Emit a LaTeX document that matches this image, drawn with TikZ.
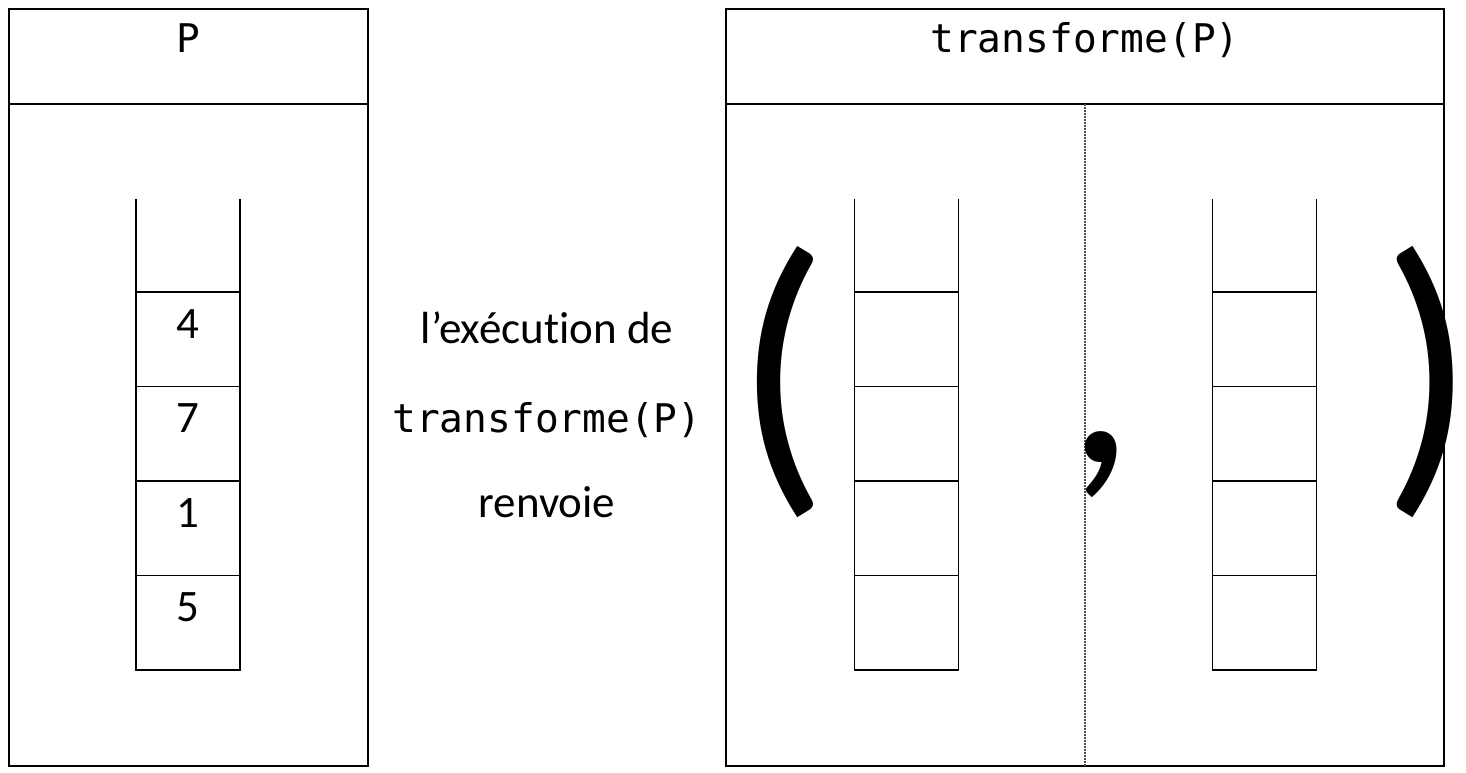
\documentclass[tikz,border=0pt]{standalone}
\usepackage{fontspec}
\setmainfont[Ligatures=NoCommon]{Carlito}
\setmonofont{DejaVu Sans Mono}
\begin{document}
\begin{tikzpicture}[x=1pt,y=-1pt,
  frame/.style={draw, line width=1.6pt, inner sep=0pt, outer sep=0pt, minimum width=#1},
  cellbox/.style={draw, line width=1.4pt, minimum width=104pt, minimum height=94.5pt, inner sep=0pt, outer sep=0pt},
  txt/.style={font=\fontsize{45}{54}\selectfont, inner sep=0pt, anchor=base},
  mono/.style={font=\ttfamily\fontsize{39.5}{46}\selectfont, inner sep=0pt, anchor=base},
  big/.style={font=\fontsize{312}{312}\selectfont, inner sep=0pt},
  bigc/.style={font=\fontsize{275}{275}\selectfont, inner sep=0pt},
  sep/.style={line width=1.3pt, draw=black!70, dash pattern=on 1.5pt off 1.5pt}]
\useasboundingbox (0,0) rectangle (1466,772);
% left frame
\node[frame=359pt, minimum height=757pt] (lbox) at (188.5,387.5) {};
\node[frame=359pt, minimum height=95pt] (lhead) at (188.5,56.5) {};
\node[mono] (ltitle) at (188,52) {P};
% left stack
\foreach \i/\y in {1/339.25,2/433.75,3/528.25,4/622.75}
  \node[cellbox] (l\i) at (188,\y) {};
\coordinate (ltopL) at (136,199);
\coordinate (ltopR) at (240,199);
\draw[line width=1.4pt] (l1.north west) -- (ltopL);
\draw[line width=1.4pt] (l1.north east) -- (ltopR);
\path (l1.north) ++(0,46) node[txt] (n4) {4};
\path (l2.north) ++(0,46) node[txt] (n7) {7};
\path (l3.north) ++(0,46) node[txt] (n1) {1};
\path (l4.north) ++(0,46) node[txt] (n5) {5};
% middle text
\node[txt] (m1) at (547,343) {l’exécution de};
\node[mono] (m2) at (547,432) {transforme(P)};
\node[txt] (m3) at (547,517) {renvoie};
% right frame
\node[frame=718pt, minimum height=757pt] (rbox) at (1085,387.5) {};
\node[frame=718pt, minimum height=95pt] (rhead) at (1085,56.5) {};
\node[mono] (rtitle) at (1085,52) {transforme(P)};
\draw[sep] (rhead.south) -- (rbox.south);
% right stacks
\foreach \s/\x in {a/906.5,b/1264.5}{
  \foreach \i/\y in {1/339.25,2/433.75,3/528.25,4/622.75}
    \node[cellbox] (\s\i) at (\x,\y) {};
  \coordinate (\s topL) at (\x-52,199);
  \coordinate (\s topR) at (\x+52,199);
  \draw[line width=1.4pt] (\s1.north west) -- (\s topL);
  \draw[line width=1.4pt] (\s1.north east) -- (\s topR);
}
% big parentheses and comma
\node[big] (lp) at (782,382) {\kern-12pt(\kern-12pt};
\node[big] (rp) at (1429,382) {\kern-12pt)\kern-12pt};
\node[bigc] (cm) at (1101,465) {,};
\end{tikzpicture}
\end{document}
